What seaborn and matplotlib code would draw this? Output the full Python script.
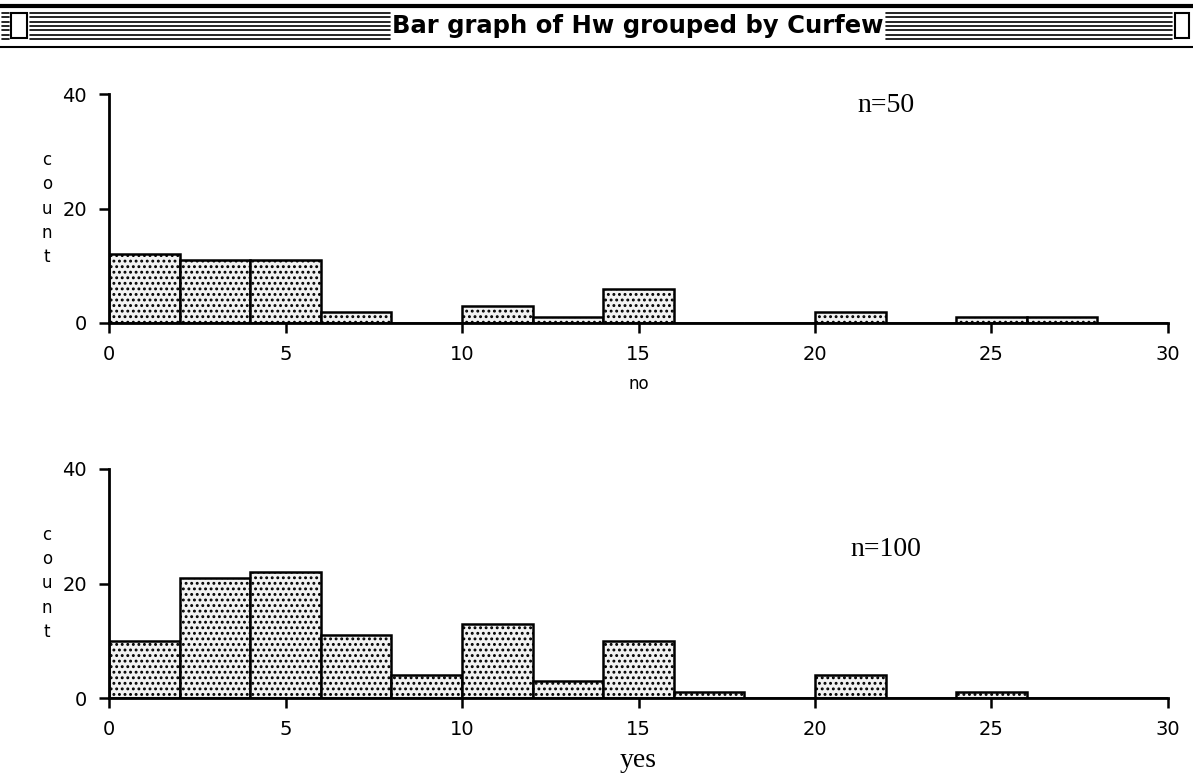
import numpy as np
import pandas as pd
import matplotlib
matplotlib.use("Agg")
import matplotlib.pyplot as plt
import seaborn as sns
from matplotlib.lines import Line2D
from matplotlib.patches import Rectangle

# homework hours, bins of width 2 from 0 to 30
bin_left = [0, 2, 4, 6, 8, 10, 12, 14, 16, 18, 20, 22, 24, 26, 28]
count_no = [12, 11, 11, 2, 0, 3, 1, 6, 0, 0, 2, 0, 1, 1, 0]
count_yes = [10, 21, 22, 11, 4, 13, 3, 10, 1, 0, 4, 0, 1, 0, 0]
groups = ["no", "yes"]
n_labels = ["n=50", "n=100"]
x_ticks = [0, 5, 10, 15, 20, 25, 30]
y_ticks = [0, 20, 40]

df = pd.DataFrame({
    "Hw": [b + 1 for b in bin_left] * 2,
    "count": count_no + count_yes,
    "Curfew": ["no"] * len(bin_left) + ["yes"] * len(bin_left),
})

sns.set_style("white")
plt.rcParams["font.family"] = ["DejaVu Sans"]
plt.rcParams["hatch.linewidth"] = 1.3
for k in ["text.color", "axes.labelcolor", "xtick.color", "ytick.color", "axes.edgecolor"]:
    plt.rcParams[k] = "black"

W, H = 1193, 773
fig = plt.figure(figsize=(W / 100, H / 100), dpi=100)

def fx(px):
    return px / W

def fy(py):
    return 1 - py / H

# window title bar
fig.add_artist(Line2D([0, 1], [fy(6), fy(6)], transform=fig.transFigure, color="black", lw=3))
fig.add_artist(Line2D([0, 1], [fy(47), fy(47)], transform=fig.transFigure, color="black", lw=1.5))
for yy in np.linspace(13, 39, 7):
    for a, b in [(2, 9), (30, 390), (886, 1172)]:
        fig.add_artist(Line2D([fx(a), fx(b)], [fy(yy), fy(yy)], transform=fig.transFigure,
                              color="black", lw=1.2))
fig.add_artist(Rectangle((fx(11), fy(38)), fx(16), 25 / H, transform=fig.transFigure,
                         fill=False, ec="black", lw=1.5))
fig.add_artist(Rectangle((fx(1175), fy(38)), fx(14), 25 / H, transform=fig.transFigure,
                         fill=False, ec="black", lw=1.5))
fig.text(fx(638), fy(26), "Bar graph of Hw grouped by Curfew", ha="center", va="center",
         fontsize=17.5, fontweight="bold")

axes_px = [(94, 323), (469, 698)]
for i, g in enumerate(groups):
    top, bot = axes_px[i]
    ax = fig.add_axes([fx(109), fy(bot), fx(1059), (bot - top) / H])
    sub = df[df["Curfew"] == g]
    sns.histplot(data=sub, x="Hw", weights="count", binwidth=2, binrange=(0, 30),
                 color="#f2f2f2", edgecolor="black", linewidth=1.8, alpha=1, ax=ax)
    for p in ax.patches:
        p.set_hatch("...")
    ax.set_xlim(0, 30)
    ax.set_ylim(0, 40)
    ax.set_xticks(x_ticks)
    ax.set_yticks(y_ticks)
    ax.tick_params(axis="both", direction="out", length=7, width=1.8, labelsize=14, pad=9,
                   bottom=True, left=True)
    for s in ["top", "right"]:
        ax.spines[s].set_visible(False)
    for s in ["left", "bottom"]:
        ax.spines[s].set_linewidth(2)
    ax.set_ylabel("c\no\nu\nn\nt", rotation=0, fontsize=12, linespacing=1.45,
                  ha="center", va="center")
    ax.yaxis.set_label_coords(-0.0585, 0.5)
    if g == "no":
        ax.set_xlabel("no", fontsize=12, labelpad=8)
    else:
        ax.set_xlabel("yes", fontsize=20, family="Liberation Serif", labelpad=6)
    ax.text(22, 38 if g == "no" else 26, n_labels[i], fontsize=20,
            family="Liberation Serif", ha="center", va="center")

fig.savefig("out.png", dpi=100)
